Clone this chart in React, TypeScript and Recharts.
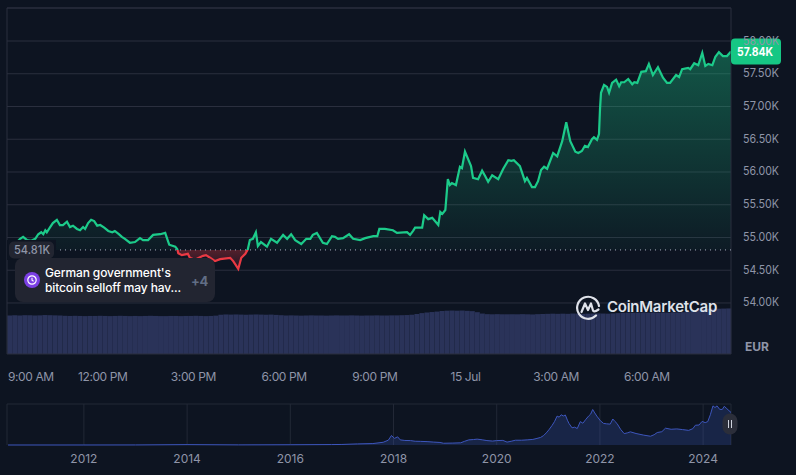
import { Area, AreaChart, Bar, BarChart, CartesianGrid, ReferenceDot, ReferenceLine, XAxis, YAxis } from "recharts";

// minutes after 9:00 AM on 14 Jul
const minutes = [
  -8, 0, 10, 16, 22, 30, 38, 46, 52, 58,
  62, 66, 69, 75, 81, 89, 95, 101, 109, 115,
  121, 129, 135, 141, 145, 151, 157, 163, 169, 175,
  183, 191, 199, 204, 212, 218, 224, 234, 244, 254,
  260, 270, 280, 294, 304, 308, 312, 324, 328, 330,
  337, 349, 353, 363, 371, 379, 385, 393, 403, 413,
  433, 439, 449, 455, 463, 468, 472, 478, 484, 488,
  494, 506, 514, 526, 538, 546, 554, 562, 574, 584,
  592, 597, 605, 617, 625, 635, 641, 647, 657, 669,
  677, 691, 701, 717, 725, 729, 740, 756, 764, 784,
  790, 796, 800, 814, 818, 826, 834, 846, 850, 854,
  860, 865, 869, 873, 881, 889, 893, 899, 911, 915,
  925, 933, 939, 945, 953, 965, 975, 985, 991, 996,
  1008, 1018, 1022, 1032, 1038, 1044, 1050, 1056, 1062, 1074,
  1082, 1092, 1100, 1108, 1118, 1124, 1131, 1137, 1143, 1151,
  1155, 1161, 1165, 1167, 1169, 1175, 1181, 1185, 1191, 1199,
  1205, 1209, 1215, 1223, 1231, 1235, 1241, 1249, 1258, 1264,
  1272, 1282, 1292, 1300, 1306, 1318, 1324, 1330, 1342, 1346,
  1354, 1362, 1370, 1376, 1382, 1390, 1396, 1403, 1411, 1419,
  1427,
];

// price in thousands of EUR
const prices = [
  54.82, 54.87, 54.93, 54.98, 55.01, 54.96, 54.95, 54.98, 55.05, 55.08,
  55.05, 55.11, 55.08, 55.15, 55.22, 55.27, 55.19, 55.19, 55.24, 55.16,
  55.18, 55.13, 55.11, 55.16, 55.13, 55.22, 55.27, 55.25, 55.18, 55.19,
  55.15, 55.1, 55.08, 55.1, 55.05, 55.01, 54.98, 54.92, 54.93, 54.99,
  54.96, 54.96, 55.04, 55.05, 55.07, 54.98, 54.89, 54.86, 54.82, 54.76,
  54.73, 54.75, 54.69, 54.66, 54.69, 54.72, 54.73, 54.69, 54.64, 54.67,
  54.69, 54.64, 54.52, 54.69, 54.75, 54.82, 54.96, 54.98, 55.08, 54.87,
  54.93, 54.86, 54.98, 54.92, 55.04, 54.98, 55.05, 54.96, 54.9, 54.98,
  54.98, 55.04, 55.07, 54.92, 54.9, 55.02, 55.01, 54.98, 54.99, 55.05,
  54.98, 54.96, 54.99, 55.02, 55.02, 55.13, 55.13, 55.11, 55.07, 55.08,
  55.04, 55.1, 55.15, 55.15, 55.34, 55.28, 55.3, 55.19, 55.39, 55.36,
  55.42, 55.89, 55.8, 55.83, 55.8, 56.08, 56.06, 56.31, 56.09, 55.91,
  55.89, 56.02, 55.94, 55.85, 55.95, 55.89, 56.05, 56.18, 56.17, 56.18,
  56.09, 55.86, 55.91, 55.77, 55.77, 55.86, 56.03, 56.08, 56.05, 56.29,
  56.24, 56.47, 56.76, 56.47, 56.31, 56.29, 56.32, 56.4, 56.38, 56.5,
  56.53, 56.49, 56.58, 56.96, 57.21, 57.33, 57.3, 57.21, 57.36, 57.41,
  57.31, 57.37, 57.37, 57.42, 57.34, 57.37, 57.36, 57.53, 57.54, 57.65,
  57.48, 57.6, 57.44, 57.36, 57.36, 57.48, 57.45, 57.57, 57.59, 57.57,
  57.66, 57.63, 57.82, 57.62, 57.65, 57.63, 57.76, 57.83, 57.77, 57.77,
  57.84,
];

// rolling volume, billions of EUR
const volumes = [
  25.6, 25.7, 25.6, 25.8, 25.7, 25.6, 25.7, 25.9, 25.8, 25.7, 25.6, 25.4,
  25.3, 25.4, 25.3, 25.2, 25.3, 25.3, 25.4, 25.3, 25.2, 25.3, 25.4, 25.3,
  25.2, 25.3, 25.2, 25.3, 25.4, 25.3, 25.2, 25.2, 25.3, 25.3, 25.2, 25.3,
  25.3, 25.4, 25.3, 25.2, 25.3, 25.5, 26.1, 26.3, 26.2, 26.3, 26.2, 26.1,
  26.2, 26.3, 26.2, 26.1, 26.2, 26.0, 25.8, 25.6, 25.7, 25.6, 25.5, 25.6,
  25.7, 25.6, 25.6, 25.5, 25.6, 25.7, 25.6, 25.6, 25.7, 25.6, 25.5, 25.6,
  25.6, 25.7, 25.6, 25.6, 25.7, 25.7, 25.8, 25.9, 26.1, 26.6, 27.2, 27.6,
  27.9, 28.2, 28.6, 28.8, 28.9, 28.8, 28.9, 28.7, 28.5, 27.8, 26.9, 26.5,
  26.4, 26.5, 26.4, 26.4, 26.5, 26.4, 26.5, 26.4, 26.3, 26.5, 26.6, 26.7,
  26.8, 26.7, 26.8, 26.7, 26.9, 26.8, 26.7, 26.8, 26.9, 27.0, 26.9, 26.8,
  27.0, 27.2, 27.4, 27.5, 27.4, 27.5, 27.6, 27.5, 27.6, 27.5, 27.6, 27.5,
  27.7, 27.6, 27.8, 28.3, 29.1, 29.8, 30.0, 30.1, 30.2, 30.1, 30.2, 30.3,
];

// long-range history, year and price in thousands of EUR
const historyYears = [
  2010.53, 2012, 2013, 2014, 2015, 2016, 2016.8, 2017, 2017.3, 2017.6,
  2017.8, 2017.9, 2017.96, 2018.02, 2018.08, 2018.13, 2018.22, 2018.33, 2018.42, 2018.52,
  2018.65, 2018.78, 2018.9, 2018.97, 2019.15, 2019.3, 2019.38, 2019.46, 2019.55, 2019.62,
  2019.72, 2019.81, 2019.92, 2020, 2020.12, 2020.2, 2020.28, 2020.36, 2020.48, 2020.59,
  2020.7, 2020.78, 2020.85, 2020.91, 2020.96, 2021.01, 2021.07, 2021.12, 2021.17, 2021.21,
  2021.25, 2021.29, 2021.33, 2021.37, 2021.4, 2021.46, 2021.51, 2021.56, 2021.62, 2021.67,
  2021.72, 2021.78, 2021.82, 2021.86, 2021.9, 2021.94, 2022.01, 2022.07, 2022.13, 2022.2,
  2022.25, 2022.29, 2022.33, 2022.4, 2022.47, 2022.53, 2022.59, 2022.7, 2022.85, 2022.98,
  2023.05, 2023.11, 2023.2, 2023.27, 2023.38, 2023.49, 2023.6, 2023.72, 2023.8, 2023.85,
  2023.92, 2023.98, 2024.04, 2024.09, 2024.14, 2024.19, 2024.23, 2024.27, 2024.32, 2024.37,
  2024.41, 2024.46, 2024.5, 2024.54,
];
const historyPrices = [
  0, 0.01, 0.1, 0.6, 0.2, 0.4, 0.7, 0.9, 1.8, 2.4,
  4.5, 8, 15.7, 11, 13.5, 8.5, 7.5, 7.3, 6.2, 6,
  5.6, 4.8, 4.2, 2.9, 3.2, 3.6, 6.2, 8.5, 9, 9.7,
  8.6, 7.3, 6.5, 7.3, 7.6, 4.8, 6.2, 7.9, 7.9, 8.5,
  9.2, 10.9, 12.5, 15.7, 20, 25, 32, 38.7, 47.8, 46,
  50, 48, 49.6, 41, 35.7, 28.4, 29.5, 27.2, 38.7, 36,
  41.7, 47.8, 51, 58.7, 53, 47.8, 40, 35.7, 35, 34.5,
  43, 39, 35.7, 26, 18.8, 20, 21.8, 19, 16.3, 14.5,
  17, 20.6, 22, 27.8, 26, 26.6, 25.5, 24.2, 27, 32.7,
  33, 39, 37, 38.7, 50, 64.7, 62, 64.7, 59, 58.7,
  64, 60, 56.9, 53.8,
];

const priceTicks = [54, 54.5, 55, 55.5, 56, 56.5, 57, 57.5, 58];
const timeTicks = [0, 180, 360, 540, 720, 900, 1080, 1260];
const timeLabels = ["9:00 AM", "12:00 PM", "3:00 PM", "6:00 PM", "9:00 PM", "15 Jul", "3:00 AM", "6:00 AM"];
const yearTicks = [2012, 2014, 2016, 2018, 2020, 2022, 2024];

const BASE_PRICE = 54.81;
const LAST_PRICE = 57.84;
const PRICE_DOMAIN = [53.221, 58.504];
const TIME_DOMAIN = [-10, 1427];

const priceRows = minutes.map((minute, i) => ({ minute, price: prices[i] }));
const volumeRows = volumes.map((volume, i) => ({ slot: i, volume }));
const historyRows = historyYears.map((year, i) => ({ year, price: historyPrices[i] }));

const maxPrice = Math.max(...prices);
const minPrice = Math.min(...prices);
const splitAt = (maxPrice - BASE_PRICE) / (maxPrice - minPrice);

const FONT = "Inter, sans-serif";
const BG = "#0d1421";
const GRID = "#2a2f3e";
const MUTED = "#8f95a8";
const GREEN = "#1ccb8a";
const RED = "#ea3943";
const PANEL = "#222531";

const TimeTick = ({ x, y, payload, index }: any) => (
  <text
    x={index === 0 ? 8 : x}
    y={y + 19}
    textAnchor={index === 0 ? "start" : "middle"}
    fill={MUTED}
    fontSize={12}
    fontFamily={FONT}
    letterSpacing={-0.4}
  >
    {timeLabels[timeTicks.indexOf(payload.value)]}
  </text>
);

const PriceTick = ({ x, y, payload }: any) => (
  <text x={x} y={y + 3.5} fill={MUTED} fontSize={12} fontFamily={FONT} textLength={36} lengthAdjust="spacingAndGlyphs">
    {`${payload.value.toFixed(2)}K`}
  </text>
);

const LastBadge = ({ cx, cy }: any) => (
  <g>
    <rect x={cx} y={cy - 13} width={50} height={26} rx={4} fill="#16c784" />
    <text x={cx + 6} y={cy + 4.5} fill="#fff" fontSize={12} fontWeight={700} fontFamily={FONT} textLength={36} lengthAdjust="spacingAndGlyphs">
      57.84K
    </text>
  </g>
);

const BaseBadge = ({ cy }: any) => (
  <g>
    <rect x={7} y={cy - 10} width={49} height={20} fill={BG} />
    <rect x={9} y={cy - 8.5} width={45} height={17} rx={5} fill={PANEL} />
    <text x={14} y={cy + 4.5} fill={MUTED} fontSize={12} fontWeight={500} fontFamily={FONT} textLength={36} lengthAdjust="spacingAndGlyphs">
      54.81K
    </text>
  </g>
);

const NewsCard = () => (
  <div
    style={{
      position: "absolute",
      left: 15,
      top: 258,
      width: 200,
      height: 44,
      background: PANEL,
      borderRadius: 8,
      fontFamily: FONT,
    }}
  >
    <svg width={20} height={20} style={{ position: "absolute", left: 7, top: 12 }} viewBox="0 0 20 20">
      <circle cx={10} cy={10} r={8} fill="#7b3fe4" />
      <circle cx={10} cy={10} r={4.2} fill="none" stroke="#fff" strokeWidth={1.2} />
      <path d="M10 7.8V10.2L11.6 11.2" fill="none" stroke="#fff" strokeWidth={1.1} />
    </svg>
    <div style={{ position: "absolute", left: 30, top: 7, color: "#fff", fontSize: 12, lineHeight: "15px", fontWeight: 500, letterSpacing: -0.12, whiteSpace: "nowrap" }}>
      German government's
      <br />
      bitcoin selloff may hav...
    </div>
    <div style={{ position: "absolute", left: 176, top: 15, color: "#616e85", fontSize: 13, fontWeight: 700, letterSpacing: -0.3 }}>+4</div>
  </div>
);

const Logo = () => (
  <div style={{ position: "absolute", left: 575, top: 294 }}>
    <svg width={26} height={26} viewBox="0 0 26 26" style={{ position: "absolute", left: 0, top: 0 }}>
      <path d="M21 21.5A11 11 0 1 1 24 12" fill="none" stroke="#dfe2ea" strokeWidth={2.2} strokeLinecap="round" />
      <path
        d="M6.5 18L10 9.5L13 16L16 9.5L18 16.5Q19.5 18.5 23.5 15.5"
        fill="none"
        stroke="#dfe2ea"
        strokeWidth={2.2}
        strokeLinecap="round"
        strokeLinejoin="round"
      />
    </svg>
    <div
      style={{
        position: "absolute",
        left: 32,
        top: 3,
        color: "#dfe2ea",
        fontFamily: FONT,
        fontSize: 15,
        lineHeight: "20px",
        fontWeight: 600,
        letterSpacing: -0.25,
        whiteSpace: "nowrap",
      }}
    >
      CoinMarketCap
    </div>
  </div>
);

export default function App() {
  return (
    <div style={{ position: "fixed", left: 0, top: 0, width: 796, height: 475, background: BG, overflow: "hidden" }}>
      {/* volume sits behind the price chart, sharing its plot box */}
      <div style={{ position: "absolute", left: 0, top: 0 }}>
        <BarChart width={796} height={475} data={volumeRows} margin={{ left: 7, right: 65, top: 8, bottom: 121 }} barCategoryGap="4%">
          <XAxis dataKey="slot" hide />
          <YAxis hide domain={[0, 230]} />
          <Bar dataKey="volume" fill="#2a3359" isAnimationActive={false} />
        </BarChart>
      </div>

      <div style={{ position: "absolute", left: 0, top: 0 }}>
        <AreaChart width={796} height={475} data={priceRows} margin={{ left: 7, right: 0, top: 8, bottom: 91 }}>
          <defs>
            <linearGradient id="priceStroke" x1="0" y1="0" x2="0" y2="1">
              <stop offset={splitAt} stopColor={GREEN} />
              <stop offset={splitAt} stopColor={RED} />
            </linearGradient>
            <linearGradient id="priceFill" x1="0" y1="0" x2="0" y2="1">
              <stop offset={0} stopColor={GREEN} stopOpacity={0.36} />
              <stop offset={splitAt} stopColor={GREEN} stopOpacity={0.04} />
              <stop offset={splitAt} stopColor={RED} stopOpacity={0.32} />
              <stop offset={1} stopColor={RED} stopOpacity={0.08} />
            </linearGradient>
          </defs>
          <CartesianGrid vertical={false} stroke={GRID} />
          <XAxis
            dataKey="minute"
            type="number"
            domain={TIME_DOMAIN}
            ticks={timeTicks}
            axisLine={false}
            tickLine={false}
            height={30}
            interval={0}
            tick={<TimeTick />}
          />
          <YAxis
            orientation="right"
            width={65}
            domain={PRICE_DOMAIN}
            ticks={priceTicks}
            axisLine={false}
            tickLine={false}
            tickMargin={6}
            interval={0}
            tick={<PriceTick />}
          />
          <ReferenceLine y={PRICE_DOMAIN[1]} stroke={GRID} />
          <ReferenceLine x={TIME_DOMAIN[0]} stroke={GRID} />
          <ReferenceLine x={TIME_DOMAIN[1]} stroke={GRID} />
          <Area
            type="linear"
            dataKey="price"
            baseValue={BASE_PRICE}
            stroke="url(#priceStroke)"
            strokeWidth={2.2}
            fill="url(#priceFill)"
            fillOpacity={1}
            dot={false}
            activeDot={false}
            isAnimationActive={false}
          />
          <ReferenceLine y={BASE_PRICE} stroke="#aab0c0" strokeDasharray="1 4" />
          <ReferenceDot x={TIME_DOMAIN[0]} y={BASE_PRICE} r={0} ifOverflow="visible" shape={<BaseBadge />} />
          <ReferenceDot x={TIME_DOMAIN[1]} y={LAST_PRICE} r={0} ifOverflow="visible" shape={<LastBadge />} />
        </AreaChart>
      </div>

      <div style={{ position: "absolute", left: 0, top: 0 }}>
        <AreaChart width={796} height={475} data={historyRows} margin={{ left: 7, right: 65, top: 404, bottom: 0 }}>
          <CartesianGrid horizontal={false} stroke="#222836" />
          <XAxis
            dataKey="year"
            type="number"
            domain={[2010.51, 2024.54]}
            ticks={yearTicks}
            axisLine={false}
            tickLine={false}
            height={30}
            tickMargin={3}
            interval={0}
            tick={{ fill: MUTED, fontSize: 12, fontFamily: FONT }}
          />
          <YAxis hide domain={[0, 67.8]} />
          <ReferenceLine y={67.8} stroke="#222836" />
          <Area
            type="linear"
            dataKey="price"
            stroke="#3d56bd"
            strokeWidth={1}
            fill="#3d56bd"
            fillOpacity={0.25}
            dot={false}
            activeDot={false}
            isAnimationActive={false}
          />
        </AreaChart>
      </div>

      <div style={{ position: "absolute", left: 745, top: 339, color: MUTED, fontFamily: FONT, fontSize: 12, lineHeight: "15px", fontWeight: 700 }}>EUR</div>
      <NewsCard />
      <Logo />

      {/* range handle of the navigator */}
      <svg width={16} height={22} style={{ position: "absolute", left: 722, top: 413 }}>
        <rect x={0.5} y={0.5} width={15} height={21} rx={7.5} fill="#2b2e3a" />
        <path d="M6.5 7V15M9.5 7V15" stroke="#cfd3de" strokeWidth={1} />
      </svg>
    </div>
  );
}
